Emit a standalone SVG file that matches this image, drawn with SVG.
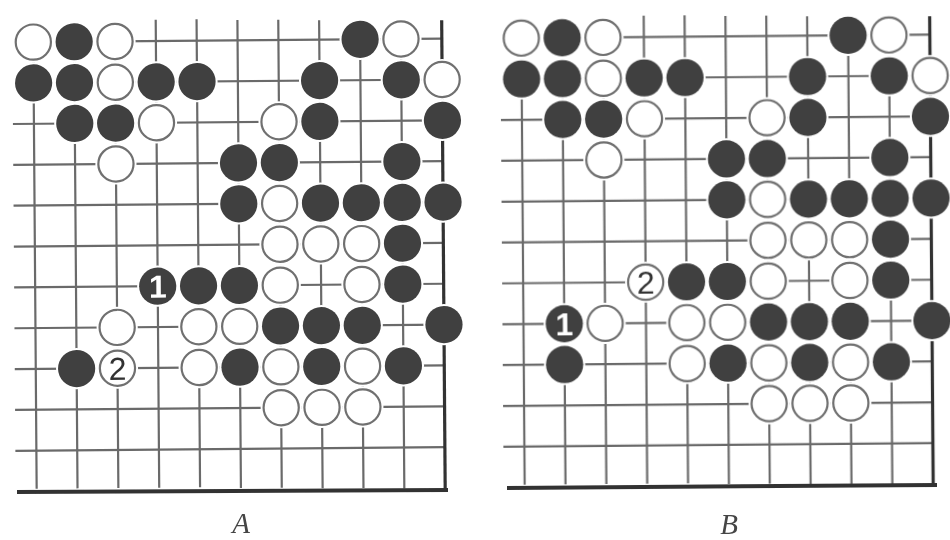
<svg xmlns="http://www.w3.org/2000/svg" width="950" height="540" viewBox="0 0 950 540">
<style>
.l{stroke:#6a6a6a;stroke-width:2.2;fill:none}
.e{stroke:#333;fill:none}
.ws{fill:#fff;stroke:#707070;stroke-width:2.2}
.bs{fill:#404040}
.h{fill:#fff}
.n{font-family:"Liberation Sans",Arial,sans-serif;font-size:32px;text-anchor:middle}
.lab{font-family:"Liberation Serif","Times New Roman",serif;font-style:italic;font-size:29px;fill:#444;text-anchor:middle}
</style>
<defs>
<filter id="soft" x="-5%" y="-5%" width="110%" height="110%"><feGaussianBlur stdDeviation="0.7"/></filter>
<g id="b"><circle r="20.6" class="h"/><circle r="18.6" class="bs"/></g>
<g id="w"><circle r="20.6" class="h"/><circle r="17.6" class="ws"/></g>
<g id="grid">
<path class="l" d="M114.7 42.4H441.5M33 83.25H441.5M12 124.1H441.5M12 164.95H441.5M12 205.8H441.5M12 246.65H441.5M12 287.5H441.5M12 328.35H441.5M12 369.2H441.5M12 410.05H441.5M12 450.9H441.5"/>
<path class="l" d="M33 42.4V489M73.85 42.4V489M114.7 42.4V489M155.55 21V489M196.4 21V489M237.25 22V490M278.1 22V490M318.95 23V491M359.8 42.4V491M400.65 42.4V492"/>
<path class="e" stroke-width="3.2" d="M441.5 24V494"/>
</g>
<g id="common">
<use href="#w" x="33" y="42.4"/><use href="#b" x="73.85" y="42.4"/><use href="#w" x="114.7" y="42.4"/><use href="#b" x="359.8" y="42.4"/><use href="#w" x="400.65" y="42.4"/>
<use href="#b" x="33" y="83.25"/><use href="#b" x="73.85" y="83.25"/><use href="#w" x="114.7" y="83.25"/><use href="#b" x="155.55" y="83.25"/><use href="#b" x="196.4" y="83.25"/><use href="#b" x="318.95" y="83.25"/><use href="#b" x="400.65" y="83.25"/><use href="#w" x="441.5" y="83.25"/>
<use href="#b" x="73.85" y="124.1"/><use href="#b" x="114.7" y="124.1"/><use href="#w" x="155.55" y="124.1"/><use href="#w" x="278.1" y="124.1"/><use href="#b" x="318.95" y="124.1"/><use href="#b" x="441.5" y="124.1"/>
<use href="#w" x="114.7" y="164.95"/><use href="#b" x="237.25" y="164.95"/><use href="#b" x="278.1" y="164.95"/><use href="#b" x="400.65" y="164.95"/>
<use href="#b" x="237.25" y="205.8"/><use href="#w" x="278.1" y="205.8"/><use href="#b" x="318.95" y="205.8"/><use href="#b" x="359.8" y="205.8"/><use href="#b" x="400.65" y="205.8"/><use href="#b" x="441.5" y="205.8"/>
<use href="#w" x="278.1" y="246.65"/><use href="#w" x="318.95" y="246.65"/><use href="#w" x="359.8" y="246.65"/><use href="#b" x="400.65" y="246.65"/>
<use href="#b" x="196.4" y="287.5"/><use href="#b" x="237.25" y="287.5"/><use href="#w" x="278.1" y="287.5"/><use href="#w" x="359.8" y="287.5"/><use href="#b" x="400.65" y="287.5"/>
<use href="#w" x="114.7" y="328.35"/><use href="#w" x="196.4" y="328.35"/><use href="#w" x="237.25" y="328.35"/><use href="#b" x="278.1" y="328.35"/><use href="#b" x="318.95" y="328.35"/><use href="#b" x="359.8" y="328.35"/><use href="#b" x="441.5" y="328.35"/>
<use href="#b" x="73.85" y="369.2"/><use href="#w" x="196.4" y="369.2"/><use href="#b" x="237.25" y="369.2"/><use href="#w" x="278.1" y="369.2"/><use href="#b" x="318.95" y="369.2"/><use href="#w" x="359.8" y="369.2"/><use href="#b" x="400.65" y="369.2"/>
<use href="#w" x="278.1" y="410.05"/><use href="#w" x="318.95" y="410.05"/><use href="#w" x="359.8" y="410.05"/>
</g>
</defs>
<rect width="950" height="540" fill="#fff"/>
<g filter="url(#soft)">
<g id="boardA" transform="matrix(1 -0.0085 0.0075 1 0 0)">
<use href="#grid"/>
<use href="#common"/>
<g id="moveA1"><use href="#b" x="155.55" y="287.5"/><text class="n" x="155.55" y="299" fill="#fff" font-weight="bold">1</text></g>
<g id="moveA2"><use href="#w" x="114.7" y="369.2"/><text class="n" x="114.7" y="381" fill="#333">2</text></g>
</g>
<path class="e" stroke-width="4" d="M17 492L448 490"/>
<g id="boardB" transform="translate(488 -4) matrix(1 -0.0085 0.0075 1 0 0)">
<use href="#grid"/>
<use href="#common"/>
<g id="moveB1"><use href="#b" x="73.85" y="328.35"/><text class="n" x="73.85" y="340" fill="#fff" font-weight="bold">1</text></g>
<g id="moveB2"><use href="#w" x="155.55" y="287.5"/><text class="n" x="155.55" y="299" fill="#333">2</text></g>
</g>
<path class="e" stroke-width="4" d="M507 488L937 485"/>
<text class="lab" x="241" y="533">A</text>
<text class="lab" x="729" y="534">B</text>
</g>
</svg>
